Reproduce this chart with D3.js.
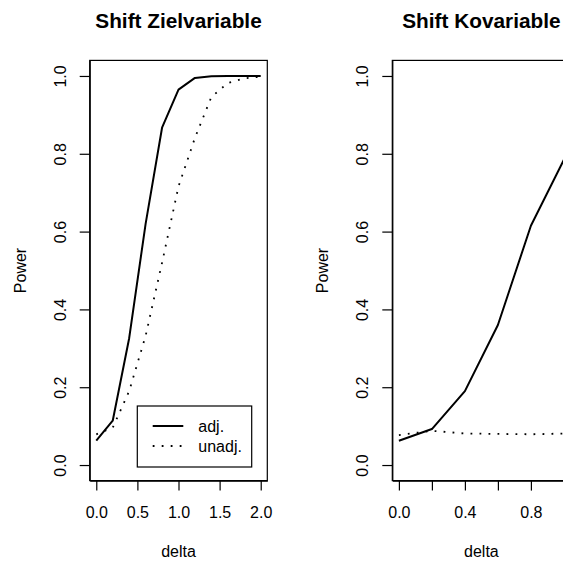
<!DOCTYPE html>
<html>
<head>
<meta charset="utf-8">
<script src="https://cdn.jsdelivr.net/npm/d3@7"></script>
<style>
  html, body { margin: 0; padding: 0; background: #fff; }
  svg { display: block; }
  text { font-family: "Liberation Sans", Arial, Helvetica, sans-serif; fill: #000; }
</style>
</head>
<body>
<svg id="chart" width="563" height="561"></svg>
<script>
// Power curves: adjusted vs. unadjusted test
const deltaZiel = [0, 0.2, 0.4, 0.6, 0.8, 1.0, 1.2, 1.4, 1.6, 1.8, 2.0];
const adjZiel   = [0.063, 0.114, 0.326, 0.62, 0.867, 0.965, 0.995, 0.999, 1.0, 1.0, 1.0];
const unadjZiel = [0.079, 0.096, 0.19, 0.332, 0.52, 0.716, 0.841, 0.946, 0.982, 0.994, 0.998];

const deltaKov = [0, 0.2, 0.4, 0.6, 0.8, 1.0];
const adjKov   = [0.0625, 0.0925, 0.19, 0.36, 0.615, 0.785];
const unadjKov = [0.077, 0.088, 0.081, 0.080, 0.079, 0.081];

const xTicksZiel = [0, 0.5, 1.0, 1.5, 2.0];
const xTicksKov  = [0, 0.2, 0.4, 0.6, 0.8, 1.0];
const xLabelsKov = [0, 0.4, 0.8];
const yTicks     = [0, 0.2, 0.4, 0.6, 0.8, 1.0];

const legendLabels = ["adj.", "unadj."];
const titles = ["Shift Zielvariable", "Shift Kovariable"];

const svg = d3.select("#chart");

const yTop = 60.4, yBottom = 480.6;
const y = d3.scaleLinear().domain([-0.04, 1.04]).range([yBottom, yTop]);

const DOT = "1.8,7.2";

function panel(opts) {
  const { x, xs, adj, unadj, xTicks, xLabels, title, legend } = opts;
  const [x0, x1] = x.range();
  const g = svg.append("g");

  const clipId = "clip" + Math.round(x0);
  svg.append("clipPath").attr("id", clipId)
    .append("rect").attr("x", x0).attr("y", yTop).attr("width", x1 - x0).attr("height", yBottom - yTop);

  const line = d3.line().x((d, i) => x(xs[i])).y(d => y(d));

  const plot = g.append("g").attr("clip-path", `url(#${clipId})`);
  plot.append("path").datum(adj)
    .attr("d", line).attr("fill", "none").attr("stroke", "#000")
    .attr("stroke-width", 2).attr("stroke-linejoin", "round");
  plot.append("path").datum(unadj)
    .attr("d", line).attr("fill", "none").attr("stroke", "#000")
    .attr("stroke-width", 1.8).attr("stroke-dasharray", DOT);

  // frame
  g.append("rect").attr("x", x0).attr("y", yTop)
    .attr("width", x1 - x0).attr("height", yBottom - yTop)
    .attr("fill", "none").attr("stroke", "#000").attr("stroke-width", 1.2);

  // x axis
  const xa = g.append("g").attr("transform", `translate(0,${yBottom})`)
    .call(d3.axisBottom(x).tickValues(xTicks).tickSize(10).tickSizeOuter(0)
      .tickFormat(d => xLabels.includes(d) ? d3.format(".1f")(d) : ""));
  xa.select(".domain").attr("stroke-width", 1.2);
  xa.selectAll(".tick line").attr("stroke-width", 1.2);
  xa.selectAll(".tick text").attr("font-size", 16).attr("y", 0).attr("dy", 0)
    .attr("transform", "translate(0,32)").attr("dominant-baseline", "central")
    .style("font-family", "Liberation Sans, Arial, sans-serif");

  // y axis
  const ya = g.append("g").attr("transform", `translate(${x0},0)`)
    .call(d3.axisLeft(y).tickValues(yTicks).tickSize(10).tickSizeOuter(0)
      .tickFormat(d3.format(".1f")));
  ya.select(".domain").attr("stroke-width", 1.2);
  ya.selectAll(".tick line").attr("stroke-width", 1.2);
  ya.selectAll(".tick text").attr("font-size", 16)
    .attr("x", null).attr("dy", null).attr("text-anchor", "middle")
    .attr("dominant-baseline", "central")
    .attr("transform", "translate(-29.5,0) rotate(-90)")
    .style("font-family", "Liberation Sans, Arial, sans-serif");

  const xc = (x0 + x1) / 2;
  g.append("text").attr("x", xc).attr("y", 20).attr("text-anchor", "middle")
    .attr("dominant-baseline", "central").attr("font-size", 20.8)
    .attr("font-weight", "bold").text(title);
  g.append("text").attr("x", xc).attr("y", 551.5).attr("text-anchor", "middle")
    .attr("dominant-baseline", "central").attr("font-size", 16).text("delta");
  const yc = (yTop + yBottom) / 2;
  g.append("text").attr("transform", `translate(${x0 - 69.7},${yc}) rotate(-90)`)
    .attr("text-anchor", "middle").attr("dominant-baseline", "central")
    .attr("font-size", 16).text("Power");

  if (legend) {
    const lg = g.append("g");
    lg.append("rect").attr("x", 137.3).attr("y", 406).attr("width", 114.4).attr("height", 61)
      .attr("fill", "#fff").attr("stroke", "#000").attr("stroke-width", 1.2);
    legendLabels.forEach((lab, i) => {
      const ly = 426 + i * 20;
      lg.append("line").attr("x1", 152.7).attr("x2", 183.3).attr("y1", ly).attr("y2", ly)
        .attr("stroke", "#000")
        .attr("stroke-width", i === 0 ? 2 : 1.8)
        .attr("stroke-dasharray", i === 0 ? null : DOT);
      lg.append("text").attr("x", 198.3).attr("y", ly).attr("dominant-baseline", "central")
        .attr("font-size", 16).text(lab);
    });
  }
}

panel({
  x: d3.scaleLinear().domain([-0.08, 2.08]).range([89.7, 267.3]),
  xs: deltaZiel, adj: adjZiel, unadj: unadjZiel,
  xTicks: xTicksZiel, xLabels: xTicksZiel, title: titles[0], legend: true
});

panel({
  x: d3.scaleLinear().domain([-0.04, 1.04]).range([392.3, 570.5]),
  xs: deltaKov, adj: adjKov, unadj: unadjKov,
  xTicks: xTicksKov, xLabels: xLabelsKov, title: titles[1], legend: false
});
</script>
</body>
</html>
